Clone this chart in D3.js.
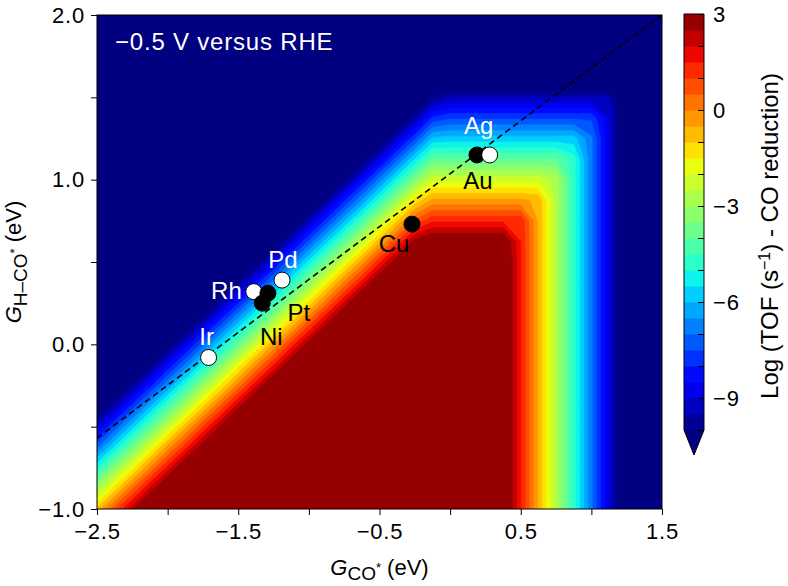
<!DOCTYPE html>
<html>
<head>
<meta charset="utf-8">
<script src="https://cdn.jsdelivr.net/npm/d3@7"></script>
<style>
body { margin: 0; background: #fff; }
text { font-family: "Liberation Sans", Arial, Helvetica, sans-serif; }
</style>
</head>
<body>
<svg id="chart" width="788" height="586"></svg>
<script>
// grid nodes (eV), 0.125 eV apart
var gridX = [-2.5, -2.375, -2.25, -2.125, -2.0, -1.875, -1.75, -1.625, -1.5, -1.375, -1.25, -1.125, -1.0,
             -0.875, -0.75, -0.625, -0.5, -0.375, -0.25, -0.125, 0.0, 0.125, 0.25, 0.375, 0.5,
             0.625, 0.75, 0.875, 1.0, 1.125, 1.25, 1.375, 1.5];
var gridY = [-1.0, -0.875, -0.75, -0.625, -0.5, -0.375, -0.25, -0.125, 0.0, 0.125, 0.25, 0.375, 0.5,
             0.625, 0.75, 0.875, 1.0, 1.125, 1.25, 1.375, 1.5, 1.625, 1.75, 1.875, 2.0];

// log TOF, one row per gridY value (bottom row first);
// plateau shown as 5 (>= 3) and the dark-blue floor as -12 (< -10)
var tofGrid = [
  [-0.9, 0.8, 2.4, 4.1, 5, 5, 5, 5, 5, 5, 5, 5, 5, 5, 5, 5, 5, 5, 5, 5, 5, 5, 5, 3.6, 1.5, -0.6, -2.7, -4.8, -6.9, -9.0, -11.1, -12, -12],
  [-3.0, -1.3, 0.4, 2.1, 3.7, 5, 5, 5, 5, 5, 5, 5, 5, 5, 5, 5, 5, 5, 5, 5, 5, 5, 5, 3.6, 1.5, -0.6, -2.7, -4.8, -6.9, -9.0, -11.1, -12, -12],
  [-5.0, -3.3, -1.7, 0.0, 1.7, 3.4, 5, 5, 5, 5, 5, 5, 5, 5, 5, 5, 5, 5, 5, 5, 5, 5, 5, 3.6, 1.5, -0.6, -2.7, -4.8, -6.9, -9.0, -11.1, -12, -12],
  [-7.1, -5.4, -3.7, -2.0, -0.3, 1.3, 3.0, 4.7, 5, 5, 5, 5, 5, 5, 5, 5, 5, 5, 5, 5, 5, 5, 5, 3.6, 1.5, -0.6, -2.7, -4.8, -6.9, -9.0, -11.1, -12, -12],
  [-9.1, -7.4, -5.75, -4.1, -2.4, -0.7, 1.0, 2.6, 4.3, 5, 5, 5, 5, 5, 5, 5, 5, 5, 5, 5, 5, 5, 5, 3.6, 1.5, -0.6, -2.7, -4.8, -6.9, -9.0, -11.1, -12, -12],
  [-11.2, -9.47, -7.8, -6.1, -4.4, -2.8, -1.1, 0.6, 2.3, 3.9, 5, 5, 5, 5, 5, 5, 5, 5, 5, 5, 5, 5, 5, 3.6, 1.5, -0.6, -2.7, -4.8, -6.9, -9.0, -11.1, -12, -12],
  [-12, -11.5, -9.8, -8.2, -6.5, -4.8, -3.1, -1.5, 0.2, 1.9, 3.6, 5, 5, 5, 5, 5, 5, 5, 5, 5, 5, 5, 5, 3.6, 1.5, -0.6, -2.7, -4.8, -6.9, -9.0, -11.1, -12, -12],
  [-12, -12, -11.9, -10.2, -8.5, -6.9, -5.2, -3.5, -1.8, -0.1, 1.5, 3.2, 4.9, 5, 5, 5, 5, 5, 5, 5, 5, 5, 5, 3.6, 1.5, -0.6, -2.7, -4.8, -6.9, -9.0, -11.1, -12, -12],
  [-12, -12, -12, -12, -10.6, -8.9, -7.2, -5.5, -3.9, -2.2, -0.5, 1.2, 2.8, 4.5, 5, 5, 5, 5, 5, 5, 5, 5, 5, 3.6, 1.5, -0.6, -2.7, -4.8, -6.9, -9.0, -11.1, -12, -12],
  [-12, -12, -12, -12, -12, -10.9, -9.3, -7.6, -5.9, -4.2, -2.6, -0.9, 0.8, 2.47, 4.1, 5, 5, 5, 5, 5, 5, 5, 5, 3.6, 1.5, -0.6, -2.7, -4.8, -6.9, -9.0, -11.1, -12, -12],
  [-12, -12, -12, -12, -12, -12, -11.3, -9.6, -8.0, -6.3, -4.6, -2.9, -1.3, 0.4, 2.1, 3.8, 5, 5, 5, 5, 5, 5, 5, 3.6, 1.5, -0.6, -2.7, -4.8, -6.9, -9.0, -11.1, -12, -12],
  [-12, -12, -12, -12, -12, -12, -12, -11.7, -10.01, -8.3, -6.7, -5.0, -3.3, -1.6, 0.1, 1.7, 3.4, 5, 5, 5, 5, 5, 5, 3.6, 1.5, -0.6, -2.7, -4.8, -6.9, -9.0, -11.1, -12, -12],
  [-12, -12, -12, -12, -12, -12, -12, -12, -12, -10.4, -8.7, -7.0, -5.3, -3.7, -2.0, -0.3, 1.4, 3.0, 4.7, 5, 5, 5, 5, 3.6, 1.5, -0.6, -2.7, -4.8, -6.9, -9.0, -11.1, -12, -12],
  [-12, -12, -12, -12, -12, -12, -12, -12, -12, -12, -10.7, -9.1, -7.4, -5.7, -4.0, -2.4, -0.7, 1.0, 2.7, 3.2, 3.2, 3.2, 3.2, 3.2, 1.5, -0.6, -2.7, -4.8, -6.9, -9.0, -11.1, -12, -12],
  [-12, -12, -12, -12, -12, -12, -12, -12, -12, -12, -12, -11.1, -9.4, -7.8, -6.1, -4.4, -2.7, -1.05, 0.6, 1.4, 1.4, 1.4, 1.4, 1.4, 1.4, -0.6, -2.7, -4.8, -6.9, -9.0, -11.1, -12, -12],
  [-12, -12, -12, -12, -12, -12, -12, -12, -12, -12, -12, -12, -11.5, -9.8, -8.1, -6.5, -4.8, -3.1, -1.4, -0.4, -0.4, -0.4, -0.4, -0.4, -0.4, -0.6, -2.7, -4.8, -6.9, -9.0, -11.1, -12, -12],
  [-12, -12, -12, -12, -12, -12, -12, -12, -12, -12, -12, -12, -12, -11.9, -10.2, -8.5, -6.8, -5.1, -3.5, -2.2, -2.2, -2.2, -2.2, -2.2, -2.2, -2.2, -2.7, -4.8, -6.9, -9.0, -11.1, -12, -12],
  [-12, -12, -12, -12, -12, -12, -12, -12, -12, -12, -12, -12, -12, -12, -12, -10.5, -8.9, -7.2, -5.5, -4.0, -4.0, -4.0, -4.0, -4.0, -4.0, -4.0, -4.0, -4.8, -6.9, -9.0, -11.1, -12, -12],
  [-12, -12, -12, -12, -12, -12, -12, -12, -12, -12, -12, -12, -12, -12, -12, -12, -10.9, -9.2, -7.6, -5.9, -5.8, -5.8, -5.8, -5.8, -5.8, -5.8, -5.8, -5.8, -6.9, -9.0, -11.1, -12, -12],
  [-12, -12, -12, -12, -12, -12, -12, -12, -12, -12, -12, -12, -12, -12, -12, -12, -12, -11.3, -9.6, -7.9, -7.6, -7.6, -7.6, -7.6, -7.6, -7.6, -7.6, -7.6, -7.6, -9.0, -11.1, -12, -12],
  [-12, -12, -12, -12, -12, -12, -12, -12, -12, -12, -12, -12, -12, -12, -12, -12, -12, -12, -11.7, -9.97, -9.45, -9.45, -9.45, -9.45, -9.45, -9.45, -9.45, -9.45, -9.45, -9.45, -11.1, -12, -12],
  [-12, -12, -12, -12, -12, -12, -12, -12, -12, -12, -12, -12, -12, -12, -12, -12, -12, -12, -12, -12, -11.3, -11.3, -11.3, -11.3, -11.3, -11.3, -11.3, -11.3, -11.3, -11.3, -11.3, -12, -12],
  [-12, -12, -12, -12, -12, -12, -12, -12, -12, -12, -12, -12, -12, -12, -12, -12, -12, -12, -12, -12, -12, -12, -12, -12, -12, -12, -12, -12, -12, -12, -12, -12, -12],
  [-12, -12, -12, -12, -12, -12, -12, -12, -12, -12, -12, -12, -12, -12, -12, -12, -12, -12, -12, -12, -12, -12, -12, -12, -12, -12, -12, -12, -12, -12, -12, -12, -12],
  [-12, -12, -12, -12, -12, -12, -12, -12, -12, -12, -12, -12, -12, -12, -12, -12, -12, -12, -12, -12, -12, -12, -12, -12, -12, -12, -12, -12, -12, -12, -12, -12, -12]
];

// contour levels and colorbar ticks
var levels = [-10, -9.5, -9, -8.5, -8, -7.5, -7, -6.5, -6, -5.5, -5, -4.5, -4, -3.5, -3, -2.5, -2, -1.5, -1, -0.5, 0, 0.5, 1, 1.5, 2, 2.5, 3];
var cbTicks = [-10, -9, -8, -7, -6, -5, -4, -3, -2, -1, 0, 1, 2, 3];
var cbLabels = [-9, -6, -3, 0, 3];

// metals
var metalNames = ["Ir", "Rh", "Ni", "Pt", "Pd", "Cu", "Au", "Ag"];
var metalGCO   = [-1.71, -1.39, -1.33, -1.29, -1.19, -0.27, 0.19, 0.28];
var metalGHCO  = [-0.08, 0.32, 0.25, 0.31, 0.39, 0.73, 1.15, 1.15];
var metalSet   = ["open", "open", "solid", "solid", "open", "solid", "solid", "open"];

// scaling line
var lineGCO  = [-2.5, 1.5];
var lineGHCO = [-0.57, 2.0];

var xTicks = [-2.5, -2.0, -1.5, -1.0, -0.5, 0.0, 0.5, 1.0, 1.5];
var xLabeled = [-2.5, -1.5, -0.5, 0.5, 1.5];
var yTicks = [-1.0, -0.5, 0.0, 0.5, 1.0, 1.5, 2.0];
var yLabeled = [-1.0, 0.0, 1.0, 2.0];

tofGrid.forEach(function(row, j) {
  if (row.length != gridX.length) throw new Error("row " + j + " has " + row.length);
});
if (tofGrid.length != gridY.length) throw new Error("rows " + tofGrid.length);

var margin = {top: 15, left: 97},
    width  = 565,
    height = 494;

var svg = d3.select("#chart");

var xScale = d3.scaleLinear().domain([-2.5, 1.5]).range([margin.left, margin.left + width]),
    yScale = d3.scaleLinear().domain([-1, 2]).range([margin.top + height, margin.top]);

// matplotlib jet
var jetR = d3.scaleLinear().domain([0, 0.35, 0.66, 0.89, 1]).range([0, 0, 1, 1, 0.5]).clamp(true),
    jetG = d3.scaleLinear().domain([0, 0.125, 0.375, 0.64, 0.91, 1]).range([0, 0, 1, 1, 0, 0]).clamp(true),
    jetB = d3.scaleLinear().domain([0, 0.11, 0.34, 0.65, 1]).range([0.5, 1, 1, 0, 0]).clamp(true);
function jet(t) {
  return d3.rgb(255 * jetR(t), 255 * jetG(t), 255 * jetB(t)).toString();
}
var norm = d3.scaleLinear().domain([-10, 3]).range([0, 1]);
function bandColor(lo) { return jet(norm(lo + 0.25)); }
var underColor = jet(0);

svg.append("defs").append("clipPath").attr("id", "plotclip")
  .append("rect")
    .attr("x", margin.left).attr("y", margin.top)
    .attr("width", width).attr("height", height);

var map = svg.append("g").attr("clip-path", "url(#plotclip)");

map.append("rect")
  .attr("x", margin.left).attr("y", margin.top)
  .attr("width", width).attr("height", height)
  .attr("fill", underColor);

var nx = gridX.length, ny = gridY.length;
var flat = [];
tofGrid.forEach(function(row) { row.forEach(function(v) { flat.push(v); }); });

var bandLows = levels.slice(0, -1);
var contours = d3.contours().size([nx, ny]).thresholds(bandLows)(flat);

var dxg = gridX[1] - gridX[0], dyg = gridY[1] - gridY[0];
var gridToPx = d3.geoTransform({
  point: function(px, py) {
    this.stream.point(xScale(gridX[0] + (px - 0.5) * dxg), yScale(gridY[0] + (py - 0.5) * dyg));
  }
});
var path = d3.geoPath(gridToPx);

map.selectAll("path.band")
  .data(contours)
  .enter().append("path")
    .attr("class", "band")
    .attr("d", path)
    .attr("fill", function(d) { return bandColor(d.value); })
    .attr("stroke", function(d) { return bandColor(d.value); })
    .attr("stroke-width", 0.6);

// dashed scaling line
var line = d3.line()
  .x(function(d) { return xScale(d[0]); })
  .y(function(d) { return yScale(d[1]); });
map.append("path")
  .attr("d", line(lineGCO.map(function(x, i) { return [x, lineGHCO[i]]; })))
  .attr("fill", "none")
  .attr("stroke", "#000")
  .attr("stroke-width", 1.6)
  .attr("stroke-dasharray", "6,4");

// metals
var metals = metalNames.map(function(n, i) {
  return {name: n, x: metalGCO[i], y: metalGHCO[i], set: metalSet[i]};
});
var labelOffset = {
  Ir: [-2, -13, "middle"], Rh: [-12, 7, "end"], Ni: [9, 42, "middle"], Pt: [31, 28, "middle"],
  Pd: [1, -12, "middle"], Cu: [-18, 28, "middle"], Au: [1, 34, "middle"], Ag: [-11, -21, "middle"]
};

svg.selectAll("circle.metal")
  .data(metals)
  .enter().append("circle")
    .attr("class", "metal")
    .attr("cx", function(d) { return xScale(d.x); })
    .attr("cy", function(d) { return yScale(d.y); })
    .attr("r", 8)
    .attr("fill", function(d) { return d.set == "open" ? "#fff" : "#000"; })
    .attr("stroke", "#000")
    .attr("stroke-width", 1);

svg.selectAll("text.metal")
  .data(metals)
  .enter().append("text")
    .attr("class", "metal")
    .attr("x", function(d) { return xScale(d.x) + labelOffset[d.name][0]; })
    .attr("y", function(d) { return yScale(d.y) + labelOffset[d.name][1]; })
    .attr("text-anchor", function(d) { return labelOffset[d.name][2]; })
    .attr("font-size", 24)
    .attr("fill", function(d) { return d.set == "open" ? "#fff" : "#000"; })
    .text(function(d) { return d.name; });

svg.append("text")
  .attr("x", 115).attr("y", 50)
  .attr("font-size", 24)
  .attr("letter-spacing", 0.8)
  .attr("fill", "#fff")
  .text("\u22120.5 V versus RHE");

// frame and axes
svg.append("rect")
  .attr("x", margin.left).attr("y", margin.top)
  .attr("width", width).attr("height", height)
  .attr("fill", "none").attr("stroke", "#000").attr("stroke-width", 1);

var fmt = d3.format(".1f");
var xAxis = d3.axisBottom(xScale)
  .tickValues(xTicks)
  .tickSize(6).tickPadding(8)
  .tickFormat(function(d) { return xLabeled.indexOf(d) >= 0 ? fmt(d) : ""; });
var yAxis = d3.axisLeft(yScale)
  .tickValues(yTicks)
  .tickSize(6).tickPadding(6)
  .tickFormat(function(d) { return yLabeled.indexOf(d) >= 0 ? fmt(d) : ""; });

var gx = svg.append("g")
  .attr("transform", "translate(0," + (margin.top + height) + ")")
  .call(xAxis);
var gy = svg.append("g")
  .attr("transform", "translate(" + margin.left + ",0)")
  .call(yAxis);
[gx, gy].forEach(function(g) {
  g.select(".domain").remove();
  g.selectAll("text").attr("font-size", 22).attr("letter-spacing", 0.8).attr("fill", "#000")
    .style("font-family", "'Liberation Sans', Arial, sans-serif");
  g.selectAll("line").attr("stroke", "#000");
});

var xt = svg.append("text")
  .attr("x", margin.left + width / 2).attr("y", 575)
  .attr("text-anchor", "middle")
  .attr("font-size", 22);
xt.append("tspan").attr("font-style", "italic").text("G");
xt.append("tspan").attr("font-size", 19).attr("dy", 5).text("CO");
xt.append("tspan").attr("font-size", 13).attr("dy", -8).text("*");
xt.append("tspan").attr("dy", 3).text(" (eV)");

var yt = svg.append("text")
  .attr("transform", "translate(21," + (margin.top + height / 2) + ") rotate(-90)")
  .attr("text-anchor", "middle")
  .attr("font-size", 22);
yt.append("tspan").attr("font-style", "italic").text("G");
yt.append("tspan").attr("font-size", 19).attr("dy", 6).text("H\u2013CO");
yt.append("tspan").attr("font-size", 13).attr("dy", -8).text("*");
yt.append("tspan").attr("dy", 2).text(" (eV)");

// colorbar
var cb = {x: 684, w: 20, top: 14, bottom: 430, tip: 455};
var cbScale = d3.scaleLinear().domain([-10, 3]).range([cb.bottom, cb.top]);
var gcb = svg.append("g");
gcb.selectAll("rect")
  .data(bandLows)
  .enter().append("rect")
    .attr("x", cb.x)
    .attr("y", function(d) { return cbScale(d + 0.5); })
    .attr("width", cb.w)
    .attr("height", function(d) { return cbScale(d) - cbScale(d + 0.5) + 0.5; })
    .attr("fill", function(d) { return bandColor(d); });
gcb.append("path")
  .attr("d", "M" + cb.x + "," + cb.bottom + "H" + (cb.x + cb.w) + "L" + (cb.x + cb.w / 2) + "," + cb.tip + "Z")
  .attr("fill", underColor);
gcb.append("path")
  .attr("d", "M" + cb.x + "," + cb.top + "H" + (cb.x + cb.w) + "V" + cb.bottom +
             "L" + (cb.x + cb.w / 2) + "," + cb.tip + "L" + cb.x + "," + cb.bottom + "Z")
  .attr("fill", "none").attr("stroke", "#000").attr("stroke-width", 1);

var cbAxis = d3.axisRight(cbScale)
  .tickValues(cbTicks)
  .tickSizeInner(-6).tickSizeOuter(0).tickPadding(9)
  .tickFormat(function(d) { return cbLabels.indexOf(d) >= 0 ? d3.format("d")(d) : ""; });
var gca = svg.append("g")
  .attr("transform", "translate(" + (cb.x + cb.w) + ",0)")
  .call(cbAxis);
gca.select(".domain").remove();
gca.selectAll("line").attr("stroke", "#000");
gca.selectAll("text").attr("font-size", 22).attr("letter-spacing", 0.8).attr("fill", "#000")
  .style("font-family", "'Liberation Sans', Arial, sans-serif");

var ct = svg.append("text")
  .attr("transform", "translate(778,236) rotate(-90)")
  .attr("text-anchor", "middle")
  .attr("font-size", 24);
ct.append("tspan").text("Log (TOF (s");
ct.append("tspan").attr("font-size", 16).attr("dy", -8).text("\u22121");
ct.append("tspan").attr("dy", 8).text(") - CO reduction)");
</script>
</body>
</html>
